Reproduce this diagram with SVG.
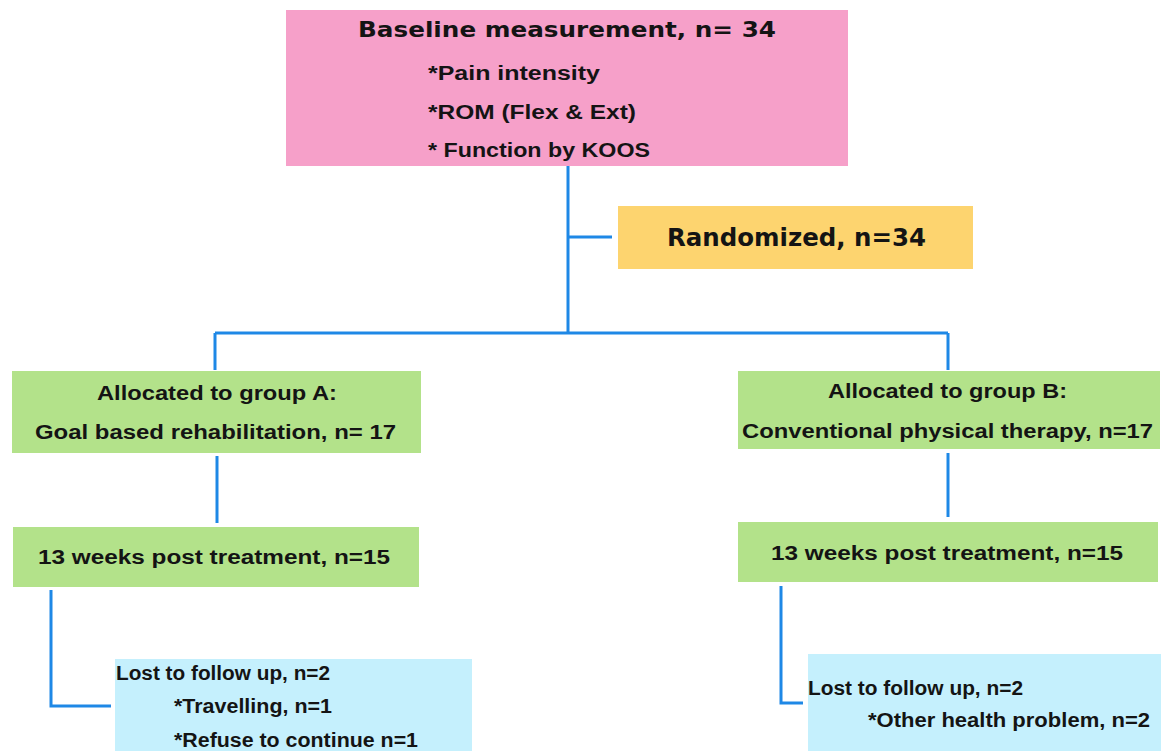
<svg xmlns="http://www.w3.org/2000/svg" width="1161" height="751" viewBox="0 0 1161 751">
<style>
.pink{fill:#F6A0C9}
.yel{fill:#FDD46F}
.grn{fill:#B3E28A}
.blu{fill:#C5F0FD}
.t{font-family:"Liberation Sans","Open Sans",sans-serif;font-weight:bold;fill:#141414;font-size:20px}
.h{font-family:"DejaVu Sans","Liberation Sans",sans-serif;font-weight:bold;fill:#141414}
.c{fill:none;stroke:#1E88E6;stroke-width:3}
</style>
<rect width="1161" height="751" fill="#fff"/>
<g id="connectors">
<path class="c" d="M568 166 V333 M568 237 H612 M215 333 H948 M215 333 V370 M948 333 V370"/>
<path class="c" d="M217 456 V523"/>
<path class="c" d="M948 453 V517"/>
<path class="c" d="M51 590 V706 H111"/>
<path class="c" d="M781 586 V703 H803"/>
</g>
<g id="baseline">
<rect class="pink" x="286" y="10" width="562" height="156"/>
<text class="h" x="358" y="37" font-size="22" textLength="418" lengthAdjust="spacingAndGlyphs">Baseline measurement, n= 34</text>
<text class="t" x="428" y="80" textLength="172" lengthAdjust="spacingAndGlyphs">*Pain intensity</text>
<text class="t" x="428" y="119" textLength="208" lengthAdjust="spacingAndGlyphs">*ROM (Flex &amp; Ext)</text>
<text class="t" x="428" y="157" textLength="222" lengthAdjust="spacingAndGlyphs">* Function by KOOS</text>
</g>
<g id="randomized">
<rect class="yel" x="618" y="206" width="355" height="63"/>
<text class="h" x="667" y="246" font-size="24" textLength="259" lengthAdjust="spacingAndGlyphs">Randomized, n=34</text>
</g>
<g id="groupA">
<rect class="grn" x="12" y="371" width="409" height="82"/>
<text class="t" x="97" y="400" font-size="21" textLength="240" lengthAdjust="spacingAndGlyphs">Allocated to group A:</text>
<text class="t" x="35" y="439" font-size="21" textLength="361" lengthAdjust="spacingAndGlyphs">Goal based rehabilitation, n= 17</text>
</g>
<g id="groupB">
<rect class="grn" x="738" y="371" width="422" height="78"/>
<text class="t" x="828" y="398" font-size="21" textLength="239" lengthAdjust="spacingAndGlyphs">Allocated to group B:</text>
<text class="t" x="742" y="438" font-size="21" textLength="411" lengthAdjust="spacingAndGlyphs">Conventional physical therapy, n=17</text>
</g>
<g id="followA">
<rect class="grn" x="13" y="527" width="406" height="60"/>
<text class="t" x="38" y="564" font-size="21" textLength="352" lengthAdjust="spacingAndGlyphs">13 weeks post treatment, n=15</text>
</g>
<g id="followB">
<rect class="grn" x="738" y="522" width="420" height="60"/>
<text class="t" x="771" y="560" font-size="21" textLength="352" lengthAdjust="spacingAndGlyphs">13 weeks post treatment, n=15</text>
</g>
<g id="lostA">
<rect class="blu" x="115" y="659" width="357" height="92"/>
<text class="t" x="116" y="680" font-size="19" textLength="214" lengthAdjust="spacingAndGlyphs">Lost to follow up, n=2</text>
<text class="t" x="174" y="713" font-size="19" textLength="158" lengthAdjust="spacingAndGlyphs">*Travelling, n=1</text>
<text class="t" x="174" y="747" font-size="19" textLength="244" lengthAdjust="spacingAndGlyphs">*Refuse to continue n=1</text>
</g>
<g id="lostB">
<rect class="blu" x="808" y="654" width="353" height="97"/>
<text class="t" x="808" y="695" font-size="19" textLength="215" lengthAdjust="spacingAndGlyphs">Lost to follow up, n=2</text>
<text class="t" x="868" y="727" font-size="19" textLength="282" lengthAdjust="spacingAndGlyphs">*Other health problem, n=2</text>
</g>
</svg>
